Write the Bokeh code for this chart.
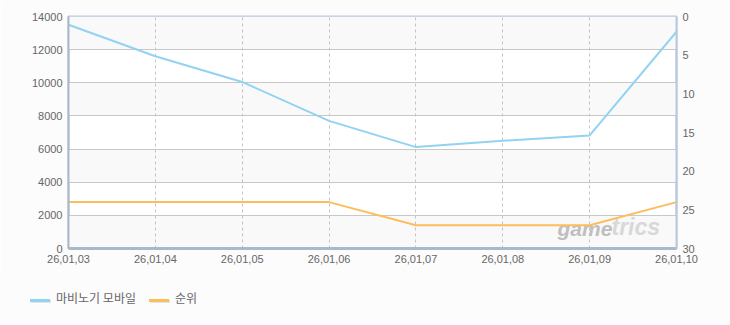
from bokeh.plotting import figure
from bokeh.layouts import column
from bokeh.models import (Range1d, LinearAxis, FixedTicker, Label, NumeralTickFormatter,
                          BoxAnnotation, Div)
from bokeh.embed import file_html
from bokeh.resources import INLINE

dates = ["26,01,03", "26,01,04", "26,01,05", "26,01,06", "26,01,07", "26,01,08", "26,01,09", "26,01,10"]
users = [13500, 11600, 10050, 7700, 6120, 6500, 6820, 13080]
rank = [24, 24, 24, 24, 27, 27, 27, 24]
left_ticks = [0, 2000, 4000, 6000, 8000, 10000, 12000, 14000]
right_ticks = [0, 5, 10, 15, 20, 25, 30]
series_names = ["마비노기 모바일", "순위"]
colors = ["#92d2f2", "#fcbe5c"]

xs = list(range(len(dates)))
BG = "#fcfcfc"

p = figure(width=730, height=275, output_backend="svg", toolbar_location=None,
           x_range=Range1d(0, len(dates) - 1), y_range=Range1d(0, 14000),
           min_border_left=68, min_border_right=54, min_border_top=16, min_border_bottom=27)
p.extra_y_ranges = {"rank": Range1d(start=30, end=0)}

p.background_fill_color = "#ffffff"
p.border_fill_color = BG
p.outline_line_color = "#b8c9da"
p.outline_line_width = 2

font = "Liberation Sans"
lab_color = "#666666"

# alternating bands (0-2000, 4000-6000, ...)
for i in range(0, len(left_ticks) - 1, 2):
    p.add_layout(BoxAnnotation(bottom=left_ticks[i], top=left_ticks[i + 1],
                               fill_color="#f9f9f9", fill_alpha=1.0, line_color=None,
                               level="image"))

# x axis
p.xaxis.ticker = FixedTicker(ticks=xs)
p.xaxis.major_label_overrides = {i: d for i, d in enumerate(dates)}
p.xaxis.axis_line_color = "#a9b9c9"
p.xaxis.axis_line_width = 3
p.xaxis.major_tick_line_color = None
p.xaxis.minor_tick_line_color = None
p.xaxis.major_label_text_font = font
p.xaxis.major_label_text_font_size = "11px"
p.xaxis.major_label_text_color = lab_color
p.xaxis.major_label_standoff = 0

# left axis
p.yaxis.ticker = FixedTicker(ticks=left_ticks)
p.yaxis.formatter = NumeralTickFormatter(format="0")
p.yaxis.axis_line_color = "#a9b9c9"
p.yaxis.axis_line_width = 2
p.yaxis.major_tick_line_color = None
p.yaxis.minor_tick_line_color = None
p.yaxis.major_label_text_font = font
p.yaxis.major_label_text_font_size = "11px"
p.yaxis.major_label_text_color = lab_color
p.yaxis.major_label_standoff = 0

# right axis
ra = LinearAxis(y_range_name="rank", ticker=FixedTicker(ticks=right_ticks))
ra.axis_line_color = "#b8c9da"
ra.axis_line_width = 2
ra.major_tick_line_color = None
ra.minor_tick_line_color = None
ra.major_label_text_font = font
ra.major_label_text_font_size = "11px"
ra.major_label_text_color = lab_color
ra.major_label_standoff = 0
p.add_layout(ra, "right")

# grids
p.xgrid.grid_line_color = "#c4c4c4"
p.xgrid.grid_line_dash = "3 3"
p.ygrid.grid_line_color = "#c8c8c8"

# watermark (behind the lines)
p.add_layout(Label(x=489, y=9, x_units="screen", y_units="screen", text="game",
                   text_font="Liberation Sans", text_font_style="bold italic",
                   text_font_size="21px", text_color="#bfbfbf", level="underlay"))
p.add_layout(Label(x=543, y=9, x_units="screen", y_units="screen", text="trics",
                   text_font="Liberation Sans", text_font_style="bold italic",
                   text_font_size="23px", text_color="#d8d8d8", level="underlay"))

p.line(xs, users, line_color=colors[0], line_width=2)
p.line(xs, rank, y_range_name="rank", line_color=colors[1], line_width=2)

# legend strip
def item(left, color, label):
    return (f'<span style="position:absolute;left:{left}px;top:24px;width:20px;height:3px;'
            f'background:{color};box-shadow:1px 1px 0 #e4e4e4;"></span>'
            f'<span style="position:absolute;left:{left + 26}px;top:14px;line-height:18px;'
            f'font-family:\'Noto Sans CJK KR\';font-size:12px;color:#666666;white-space:nowrap;">'
            f'{label}</span>')

legend_html = ('<div style="position:relative;width:730px;height:50px;">'
               + item(30, colors[0], series_names[0])
               + item(149, colors[1], series_names[1])
               + '</div>')
q = Div(text=legend_html, width=730, height=50, margin=0,
        styles={"background-color": BG})

open("out.html", "w").write(file_html(column(p, q, spacing=0), INLINE))
